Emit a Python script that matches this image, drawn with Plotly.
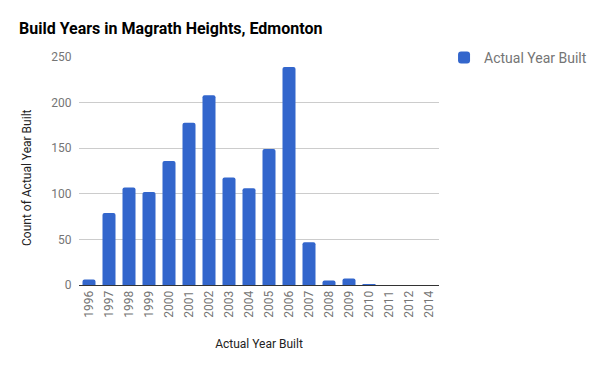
import plotly.graph_objects as go

years = ["1996", "1997", "1998", "1999", "2000", "2001", "2002", "2003", "2004",
         "2005", "2006", "2007", "2008", "2009", "2010", "2011", "2012", "2014"]
counts = [6, 79, 107, 102, 136, 178, 208, 118, 106, 149, 239, 47, 5, 7, 1, 0, 0, 0]
y_ticks = [0, 50, 100, 150, 200, 250]

fig = go.Figure()
fig.add_trace(go.Bar(
    x=years, y=counts, name="Actual Year Built",
    marker=dict(color="#3366cc", line=dict(width=0)),
))

fig.update_layout(
    width=600, height=371,
    margin=dict(l=79, r=161, t=57, b=86, autoexpand=False),
    paper_bgcolor="white", plot_bgcolor="white",
    font=dict(family="Roboto", color="#757575", size=12),
    bargap=0.35,
    barcornerradius=2,
    title=dict(text="<b>Build Years in Magrath Heights, Edmonton</b>",
               xref="container", x=19/600, xanchor="left",
               yref="container", y=1-28/371, yanchor="middle",
               pad=dict(l=0, r=0, t=0, b=0),
               font=dict(family="Roboto", size=16, color="#000000")),
    showlegend=True,
    legend=dict(x=1.014, xanchor="left", y=1.066, yanchor="top",
                font=dict(family="Roboto", size=14, color="#757575"),
                itemwidth=30, bgcolor="rgba(0,0,0,0)"),
    xaxis=dict(
        type="category", tickangle=-90, showgrid=False, automargin=False,
        tickfont=dict(size=12, color="#757575"),
        title=dict(text="Actual Year Built", font=dict(size=12, color="#222222"), standoff=22),
        showline=True, linecolor="#333333", linewidth=1,
        ticks="",
    ),
    yaxis=dict(
        range=[0, 250], tickvals=y_ticks, showgrid=True, gridcolor="#cccccc",
        automargin=False,
        gridwidth=1, zeroline=True, zerolinecolor="#333333", zerolinewidth=1,
        tickfont=dict(size=12, color="#757575"),
        ticks="outside", ticklen=4, tickcolor="white",
    ),
    annotations=[dict(
        text="Count of Actual Year Built", textangle=-90,
        xref="paper", yref="paper", x=(27 - 79) / 360, y=(285 - 178) / 228,
        xanchor="center", yanchor="middle", showarrow=False,
        font=dict(family="Roboto", size=12, color="#222222"),
    )],
)

fig.write_html("out.html", config={"displayModeBar": False},
               post_script="document.body.style.margin='0';")
